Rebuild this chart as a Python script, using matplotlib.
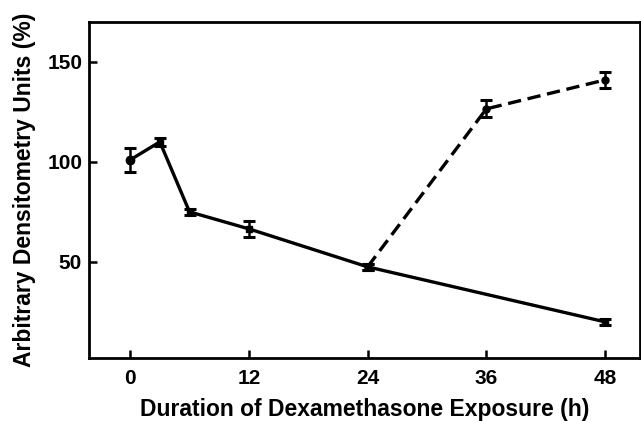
import matplotlib
matplotlib.use("Agg")
from matplotlib import pyplot as plt

# solid series (control)
hours_solid = [0, 3, 6, 12, 24, 48]
vals_solid = [101, 110, 75, 66.5, 47.5, 20]
err_solid = [6, 2, 1.5, 4, 1.5, 1.5]

# dashed series (recovery)
hours_dash = [24, 36, 48]
vals_dash = [47.5, 126.5, 141]
err_dash = [1.5, 4.3, 4]

xticks = [0, 12, 24, 36, 48]
yticks = [50, 100, 150]

plt.rcParams['font.family'] = ['Liberation Sans', 'DejaVu Sans']
plt.rcParams['font.weight'] = 'bold'

fig = plt.figure(figsize=(6.41, 4.21), dpi=100)
ax = fig.add_axes([0.139, 0.150, 0.859, 0.798])

ax.errorbar(hours_dash, vals_dash, yerr=err_dash, color='black', lw=2.4,
            linestyle=(0, (4, 2)), marker='o', ms=5, capsize=4, capthick=2.2, elinewidth=1.8)
ax.errorbar(hours_solid, vals_solid, yerr=err_solid, color='black', lw=2.4,
            linestyle='-', marker='s', ms=5, capsize=4, capthick=2.2, elinewidth=1.8)
# first point looks round
ax.plot(hours_solid[:1], vals_solid[:1], 'o', color='black', ms=6)

ax.set_xlim(-4.15, 51.5)
ax.set_ylim(2, 170)
ax.set_xticks(xticks)
ax.set_yticks(yticks)
ax.tick_params(direction='in', length=6, width=1.8, labelsize=15, pad=5)
ax.tick_params(axis='x', pad=8)
for s in ax.spines.values():
    s.set_linewidth(2)

ax.set_xlabel("Duration of Dexamethasone Exposure (h)", fontsize=16.5, fontweight='bold', labelpad=7)
ax.set_ylabel("Arbitrary Densitometry Units (%)", fontsize=16.5, fontweight='bold', labelpad=8)

plt.savefig("out.png", dpi=100)
